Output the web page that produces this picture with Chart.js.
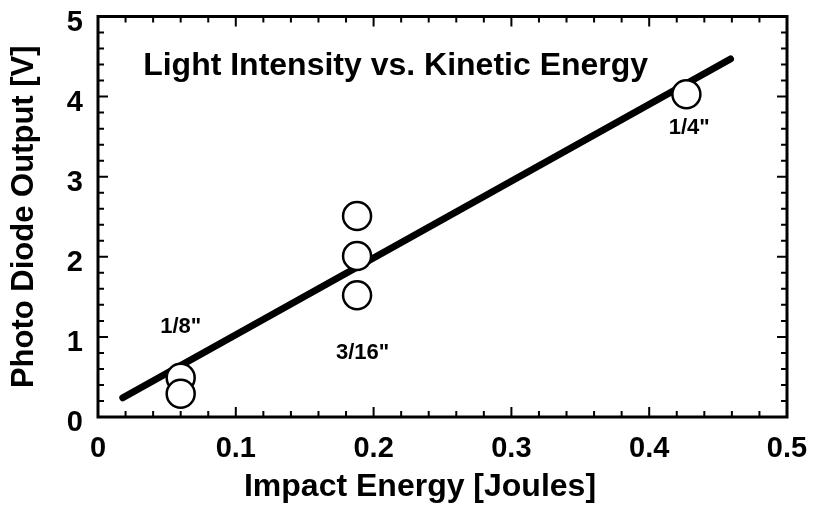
<!DOCTYPE html>
<html lang="en">
<head>
<meta charset="UTF-8">
<title>Light Intensity vs. Kinetic Energy</title>
<style>
  body { margin: 0; background: #fff; }
  #wrap { width: 820px; height: 508px; }
</style>
</head>
<body>
<div id="wrap"><canvas id="chart" width="820" height="508"></canvas></div>
<script src="https://cdn.jsdelivr.net/npm/chart.js"></script>
<script>
  // measured points (impact energy in J, photodiode output in V)
  const energy = [0.06, 0.06, 0.188, 0.188, 0.188, 0.427];
  const output = [0.49, 0.29, 2.51, 2.01, 1.52, 4.03];

  // fitted line end points
  const fitX = [0.018, 0.459];
  const fitY = [0.24, 4.47];

  // text placed in data coordinates
  const noteText = ['Light Intensity vs. Kinetic Energy', '1/8"', '3/16"', '1/4"'];
  const noteX = [0.216, 0.060, 0.192, 0.429];
  const noteY = [4.38, 1.12, 0.80, 3.61];
  const noteSize = [32, 22, 22, 22];

  const xTicks = [0, 0.1, 0.2, 0.3, 0.4, 0.5];
  const yTicks = [0, 1, 2, 3, 4, 5];

  const xTitle = 'Impact Energy [Joules]';
  const yTitle = 'Photo Diode Output [V]';

  const FONT = '"Liberation Sans", Arial, Helvetica, sans-serif';

  // frame, inward ticks on all sides and the text notes
  const framePlugin = {
    id: 'frame',
    afterDraw(chart) {
      const ctx = chart.ctx, a = chart.chartArea;
      const xs = chart.scales.x, ys = chart.scales.y;
      ctx.save();
      ctx.strokeStyle = '#000';
      ctx.lineWidth = 2;
      ctx.beginPath();
      for (let i = 0; i <= 25; i++) {
        const px = xs.getPixelForValue(i * 0.02);
        const len = i % 5 === 0 ? 10 : 6;
        ctx.moveTo(px, a.bottom); ctx.lineTo(px, a.bottom - len);
        ctx.moveTo(px, a.top); ctx.lineTo(px, a.top + len);
      }
      for (let i = 0; i <= 25; i++) {
        const py = ys.getPixelForValue(i * 0.2);
        const len = i % 5 === 0 ? 10 : 6;
        ctx.moveTo(a.left, py); ctx.lineTo(a.left + len, py);
        ctx.moveTo(a.right, py); ctx.lineTo(a.right - len, py);
      }
      ctx.stroke();
      ctx.lineWidth = 3;
      ctx.strokeRect(a.left, a.top, a.right - a.left, a.bottom - a.top);

      ctx.fillStyle = '#000';
      ctx.textAlign = 'center';
      ctx.textBaseline = 'middle';
      noteText.forEach((t, i) => {
        ctx.font = 'bold ' + noteSize[i] + 'px ' + FONT;
        ctx.fillText(t, xs.getPixelForValue(noteX[i]), ys.getPixelForValue(noteY[i]));
      });

      // x axis title sits a bit left of the plot centre in the original
      ctx.font = 'bold 32px ' + FONT;
      ctx.fillText(xTitle, 420, 487);
      ctx.restore();
    }
  };

  // fixed box sizes, no extra padding for overflowing tick labels
  function noPad(s) {
    s.paddingTop = 0; s.paddingBottom = 0; s.paddingLeft = 0; s.paddingRight = 0;
  }

  const ctx = document.getElementById('chart').getContext('2d');
  new Chart(ctx, {
    type: 'scatter',
    data: {
      datasets: [
        {
          label: 'Data',
          data: energy.map((x, i) => ({ x: x, y: output[i] })),
          pointStyle: 'circle',
          pointRadius: 14,
          pointBackgroundColor: '#fff',
          pointBorderColor: '#000',
          pointBorderWidth: 2.5,
          order: 1
        },
        {
          label: 'Fit',
          type: 'line',
          data: fitX.map((x, i) => ({ x: x, y: fitY[i] })),
          borderColor: '#000',
          borderWidth: 7,
          borderCapStyle: 'round',
          pointRadius: 0,
          fill: false,
          order: 2
        }
      ]
    },
    options: {
      responsive: false,
      animation: false,
      layout: { padding: { left: 0, top: 14, right: 33, bottom: 0 } },
      plugins: { legend: { display: false }, tooltip: { enabled: false } },
      scales: {
        x: {
          type: 'linear',
          min: 0, max: 0.5,
          afterBuildTicks: s => { s.ticks = xTicks.map(v => ({ value: v })); },
          afterFit: s => { s.height = 91; noPad(s); },
          grid: { display: false, drawTicks: false },
          border: { display: false },
          ticks: {
            color: '#000', padding: 17, maxRotation: 0,
            font: { family: FONT, size: 29, weight: 'bold', lineHeight: 1 },
            callback: v => String(v)
          },
          title: { display: false, text: xTitle }
        },
        y: {
          type: 'linear',
          min: 0, max: 5,
          afterBuildTicks: s => { s.ticks = yTicks.map(v => ({ value: v })); },
          afterFit: s => { s.width = 98; noPad(s); },
          grid: { display: false, drawTicks: false },
          border: { display: false },
          ticks: {
            color: '#000', padding: 15, labelOffset: 6,
            font: { family: FONT, size: 29, weight: 'bold', lineHeight: 1 },
            callback: v => String(v)
          },
          title: {
            display: true, text: yTitle, color: '#000',
            font: { family: FONT, size: 31, weight: 'bold' },
            padding: { top: 6, bottom: 0 }
          }
        }
      }
    },
    plugins: [framePlugin]
  });
</script>
</body>
</html>
